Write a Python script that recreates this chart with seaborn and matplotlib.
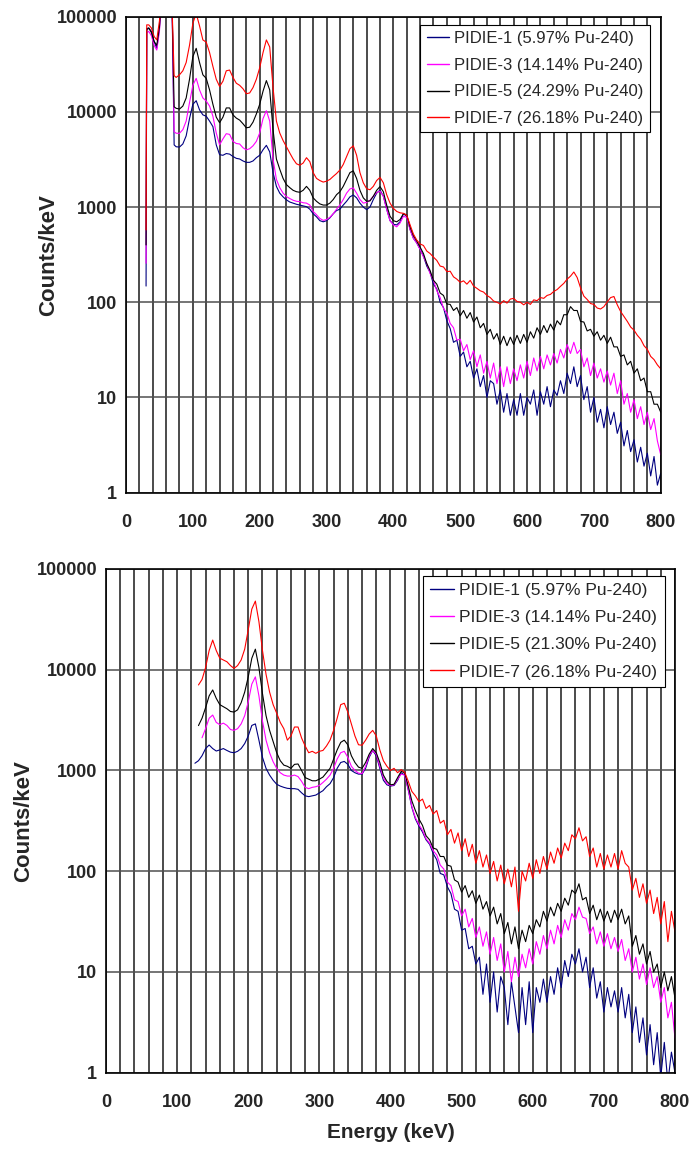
import numpy as np
import pandas as pd
import matplotlib
matplotlib.use("Agg")
import matplotlib.pyplot as plt
from matplotlib.ticker import FixedLocator, MultipleLocator, NullLocator
from matplotlib.lines import Line2D
import seaborn as sns

# Energy channels (keV)
energy_top = [30, 31, 34, 38, 42, 46, 50, 54, 58, 62, 66, 69, 72, 75] + list(range(80, 805, 5))
energy_bottom = list(range(125, 805, 5))

# ---- upper spectrum set (counts/keV) ----
top_pidie1 = [
    148, 72000, 76000, 70000, 55000, 46500, 75000, 200000, 400000, 400000, 300000, 120000, 4500, 4300,
    4270, 4600, 5600, 8500, 12000, 13100, 10500, 9300, 9000, 8000,
    7000, 4500, 3550, 3500, 3650, 3600, 3400, 3250, 3200, 3050,
    2950, 2950, 3050, 3300, 3500, 4000, 4450, 3800, 2300, 1650,
    1400, 1280, 1190, 1130, 1100, 1070, 1050, 1030, 1010, 950,
    850, 790, 720, 700, 720, 770, 850, 920, 950, 1050,
    1150, 1280, 1340, 1250, 1100, 1000, 940, 1000, 1200, 1400,
    1510, 1300, 950, 720, 660, 650, 700, 850, 800, 580,
    470, 420, 360,
    305, 240, 205, 155, 138, 100, 88, 64, 53, 38,
    40, 27, 30, 21, 24, 16, 20, 13, 17, 10,
    15, 14, 8.5, 12, 7, 11, 6.5, 9.5, 6.5, 11,
    6.5, 10, 8.5, 12, 6.5, 11.5, 8.5, 13, 8, 12,
    10.5, 15, 11, 18, 14, 21, 13, 17, 9.5, 13,
    7, 10, 5.5, 7.5, 4.8, 8, 5.2, 7, 4.2, 5.5,
    3.1, 4.5, 2.7, 3.6, 2.1, 3, 1.9, 2.6, 1.5, 2.4,
    1.2, 1.6,
]
top_pidie3 = [
    257, 68000, 70000, 63000, 50000, 44600, 70000, 200000, 400000, 400000, 300000, 120000, 6200, 5960,
    5960, 6500, 8000, 12500, 19000, 22500, 17000, 14000, 13000, 11500,
    9000, 6000, 4500, 5200, 5900, 5800, 4900, 4650, 4600, 4200,
    3990, 4100, 4400, 4900, 6000, 8500, 10300, 8000, 3200, 1950,
    1600, 1400, 1290, 1230, 1180, 1150, 1140, 1110, 1100, 1050,
    900, 830, 760, 725, 740, 780, 850, 950, 1050, 1200,
    1400, 1550, 1590, 1400, 1200, 1100, 1120, 1180, 1300, 1420,
    1470, 1300, 950, 720, 650, 620, 680, 800, 780, 580,
    470, 420, 360,
    300, 255, 200, 170, 132, 112, 86, 77, 60, 54,
    40, 41, 31, 36, 25, 31, 21, 28, 18, 24,
    16, 23, 14, 21, 13, 21, 14, 20, 15, 22,
    16, 24, 17, 26, 19, 27, 20, 28, 22, 29,
    23, 32, 26, 36, 29, 38, 29, 32, 21, 26,
    17, 23, 16, 20, 14.5, 19, 13.5, 18, 11, 15,
    8.5, 11, 7, 9.5, 6, 8, 5.2, 7, 4.6, 6,
    3.5, 2.5,
]
top_pidie5 = [
    400, 75000, 76000, 68000, 55000, 50000, 78000, 200000, 400000, 400000, 300000, 120000, 11300, 10900,
    10700, 11500, 14000, 22000, 38000, 46500, 33000, 24500, 22500, 17000,
    12000, 8800, 7700, 8800, 11000, 11000, 9300, 8600, 8200, 7500,
    6800, 6900, 7800, 9500, 12000, 16500, 21300, 17000, 6500, 3200,
    2500, 2000, 1720, 1600, 1500, 1450, 1430, 1500, 1650, 1500,
    1250, 1150, 1080, 1050, 1050, 1100, 1200, 1350, 1450, 1650,
    1950, 2300, 2400, 2000, 1500, 1250, 1150, 1160, 1300, 1500,
    1640, 1450, 1050, 800, 720, 700, 740, 850, 830, 620,
    500, 440, 380,
    325, 255, 215, 170, 155, 125, 118, 96, 95, 82,
    88, 72, 82, 68, 78, 62, 70, 54, 60, 46,
    52, 41, 47, 36, 44, 35, 43, 36, 45, 37,
    46, 38, 49, 42, 54, 46, 57, 48, 59, 51,
    64, 58, 74, 74, 90, 82, 82, 63, 62, 50,
    52, 44, 49, 40, 45, 37, 43, 34, 34, 27,
    28, 22, 24, 18, 20, 15, 16, 11.5, 11.5, 8.5,
    8.5, 7,
]
top_pidie7 = [
    575, 82000, 82000, 76000, 62000, 57000, 90000, 200000, 400000, 400000, 300000, 120000, 24000, 23000,
    24500, 27000, 33000, 50000, 85000, 108000, 80000, 57000, 54000, 42000,
    30000, 22000, 18500, 21000, 27000, 27500, 23000, 20000, 19000, 17500,
    15500, 15800, 18000, 22000, 29000, 42000, 57000, 48000, 18000, 8000,
    6000, 5000, 4300, 3700, 3200, 2850, 2750, 2900, 3300, 3000,
    2300, 2000, 1900, 1830, 1870, 1950, 2100, 2250, 2450, 2800,
    3400, 4100, 4400, 3500, 2300, 1800, 1560, 1520, 1650, 1900,
    2050, 1800, 1350, 1100, 970, 900, 870, 860, 820, 650,
    520, 450, 410,
    395, 345, 325, 298, 275, 240, 235, 210, 212, 185,
    175, 162, 168, 155, 170, 148, 140, 132, 128, 118,
    112, 103, 100, 96, 104, 98, 108, 110, 102, 100,
    94, 100, 95, 106, 104, 112, 110, 118, 121, 130,
    136, 147, 158, 175, 188, 208, 182, 142, 116, 107,
    97, 95, 87, 85, 90, 101, 112, 115, 94, 80,
    71, 63, 55, 51, 45, 41, 35, 32, 27, 25,
    22, 20,
]

# ---- lower spectrum set (counts/keV) ----
nan = float("nan")
bottom_pidie1 = [
    1180, 1250, 1400, 1650, 1790, 1650, 1560, 1600, 1650, 1580,
    1520, 1500, 1550, 1650, 1850, 2200, 2800, 2900, 2000, 1350,
    1050, 900, 800, 730, 700, 680, 665, 660, 660, 650,
    600, 560, 550, 560, 570, 600, 630, 690, 740, 850,
    1050, 1200, 1230, 1150, 1000, 950, 920, 920, 1050, 1350,
    1580, 1400, 1050, 800, 720, 700, 710, 800, 950, 900,
    640, 430, 330, 280,
    245, 205, 185, 150, 130, 95, 92, 70, 60, 42,
    40, 26, 27, 17, 18, 12, 14, 6, 12, 5,
    10, 4, 9, 7, 3, 8, 4.5, 2.5, 7, 3,
    8, 2.5, 7, 5, 8.5, 5, 9, 6, 11, 7,
    13, 9, 15, 12, 17, 10, 14, 7, 11, 5.5,
    8, 4, 7, 4.5, 6.5, 4, 7, 3.5, 6, 2.5,
    4.5, 2, 3.5, 1.5, 3, 1.2, 2.5, 0.9, 2, 0.8,
    1.6, 1,
]
bottom_pidie3 = [
    nan, nan, 2110, 2600, 3300, 3550, 3000, 2850, 2950, 2800,
    2550, 2500, 2600, 2900, 3500, 4800, 7200, 8500, 5500, 3100,
    2000, 1500, 1220, 1050, 950, 900, 880, 880, 900, 870,
    780, 680, 660, 680, 690, 710, 760, 820, 900, 1050,
    1300, 1500, 1550, 1350, 1100, 1000, 940, 930, 1100, 1400,
    1580, 1450, 1100, 850, 740, 710, 720, 820, 920, 900,
    650, 440, 340, 290,
    255, 210, 190, 160, 145, 115, 105, 78, 72, 52,
    50, 36, 42, 28, 34, 22, 28, 18, 25, 15,
    22, 13, 19, 10, 16, 8, 14, 9, 15, 11,
    17, 12, 20, 15, 23, 17, 26, 19, 29, 22,
    33, 26, 38, 33, 44, 35, 34, 24, 28, 19,
    25, 18, 24, 17, 22, 16, 21, 13, 17, 10,
    14, 8.5, 12, 7.5, 11, 7, 9, 5, 7, 3.5,
    5, 2.2,
]
bottom_pidie5 = [
    nan, 2790, 3300, 4200, 5500, 6300, 5200, 4500, 4300, 4100,
    3850, 3800, 4000, 4700, 6000, 8500, 13000, 16000, 10500, 5800,
    3500, 2500, 1930, 1500, 1250, 1130, 1100, 1050, 1150, 1160,
    1000, 850, 820, 790, 790, 820, 860, 950, 1050, 1300,
    1600, 1900, 2000, 1800, 1400, 1200, 1080, 1050, 1200, 1450,
    1650, 1500, 1200, 900, 780, 720, 730, 850, 980, 950,
    700, 500, 400, 330,
    285, 225, 205, 170, 165, 140, 140, 115, 112, 82,
    78, 62, 72, 55, 64, 48, 58, 42, 50, 36,
    44, 30, 38, 24, 31, 19, 28, 17, 26, 20,
    29, 24, 33, 28, 40, 32, 44, 36, 48, 40,
    54, 46, 65, 60, 75, 52, 55, 38, 46, 33,
    42, 32, 40, 31, 41, 33, 42, 30, 36, 18,
    23, 15, 19, 12, 16, 10, 12, 7, 10, 6.5,
    9, 5.5,
]
bottom_pidie7 = [
    nan, 7060, 8000, 10500, 15500, 19700, 15500, 13000, 12500, 12000,
    11000, 10300, 11000, 12500, 16000, 25000, 40000, 48000, 30000, 15500,
    9000, 6000, 4500, 3700, 3000, 2600, 2000, 2200, 2700, 2700,
    2100, 1750, 1500, 1550, 1480, 1550, 1580, 1750, 2000, 2500,
    3300, 4500, 4650, 3800, 2900, 2200, 1800, 1780, 2000, 2300,
    2500, 2200, 1600, 1250, 1100, 1000, 1050, 950, 1020, 960,
    780, 620, 560, 490,
    520, 420, 450, 370, 400, 300, 320, 230, 260, 190,
    240, 160, 210, 140, 185, 120, 160, 110, 145, 95,
    125, 80, 115, 75, 105, 70, 110, 40, 100, 80,
    120, 85, 130, 95, 140, 105, 155, 120, 170, 135,
    190, 160, 230, 210, 270, 200, 220, 140, 170, 110,
    150, 105, 145, 110, 150, 105, 160, 120, 110, 65,
    85, 55, 75, 48, 65, 38, 55, 30, 50, 20,
    40, 25,
]

labels_top = [
    "PIDIE-1 (5.97% Pu-240)",
    "PIDIE-3 (14.14% Pu-240)",
    "PIDIE-5 (24.29% Pu-240)",
    "PIDIE-7 (26.18% Pu-240)",
]
labels_bottom = [
    "PIDIE-1 (5.97% Pu-240)",
    "PIDIE-3 (14.14% Pu-240)",
    "PIDIE-5 (21.30% Pu-240)",
    "PIDIE-7 (26.18% Pu-240)",
]
colors = ["#000080", "#FF00FF", "#000000", "#FF0000"]

decades = [1, 10, 100, 1000, 10000, 100000]
decade_labels = ["1", "10", "100", "1000", "10000", "100000"]
energy_ticks = list(range(0, 801, 100))

sns.set_style("white")
plt.rcParams["font.family"] = ["Liberation Sans", "DejaVu Sans"]


def long_frame(energy, series, labels):
    parts = []
    for values, label in zip(series, labels):
        part = pd.DataFrame({"Energy": energy, "Counts": values, "Sample": label})
        parts.append(part.dropna())
    return pd.concat(parts, ignore_index=True)


def draw_panel(ax, energy, series, labels, legend_anchor, legend_size, legend_spacing, legend_pad):
    df = long_frame(energy, series, labels)
    sns.lineplot(data=df, x="Energy", y="Counts", hue="Sample", hue_order=labels,
                 palette=colors, linewidth=0.8, estimator=None, sort=False,
                 legend=False, ax=ax)
    ax.set_yscale("log")
    ax.set_xlim(0, 800)
    ax.set_ylim(1, 100000)

    ax.yaxis.set_major_locator(FixedLocator(decades))
    ax.yaxis.set_minor_locator(NullLocator())
    ax.set_yticklabels(decade_labels, fontweight="bold", fontsize=13)
    ax.set_xticks(energy_ticks)
    ax.set_xticklabels([str(t) for t in energy_ticks], fontweight="bold", fontsize=13)
    ax.xaxis.set_minor_locator(MultipleLocator(20))

    ax.set_axisbelow(True)
    ax.grid(True, which="both", axis="x", color="#1a1a1a", linewidth=1.1)
    ax.grid(True, which="major", axis="y", color="#505050", linewidth=1.1)
    ax.tick_params(axis="both", which="major", direction="out", width=1, color="black")
    ax.tick_params(axis="y", which="major", length=3.8, pad=2.5)
    ax.tick_params(axis="x", which="major", length=4, pad=11)
    ax.tick_params(axis="x", which="minor", length=0)
    for side in ax.spines.values():
        side.set_color("black")
        side.set_linewidth(1.2)

    ax.set_xlabel("")
    ax.set_ylabel("Counts/keV", fontweight="bold", fontsize=16)

    handles = [Line2D([0], [0], color=c, linewidth=1.0) for c in colors]
    leg = ax.legend(handles, labels, loc="upper right", bbox_to_anchor=legend_anchor,
                    borderaxespad=0, frameon=True, fancybox=False, framealpha=1,
                    edgecolor="black", fontsize=legend_size, handlelength=1.35,
                    handletextpad=0.3, labelspacing=legend_spacing, borderpad=legend_pad)
    leg.get_frame().set_linewidth(0.8)


fig = plt.figure(figsize=(6.92, 11.49), dpi=100)
ax_top = fig.add_axes([0.1821, 0.5712, 0.7727, 0.4143])
ax_bot = fig.add_axes([0.1532, 0.0664, 0.8222, 0.4384])

draw_panel(ax_top, energy_top, [top_pidie1, top_pidie3, top_pidie5, top_pidie7],
           labels_top, (0.980, 0.983), 12, 0.70, 0.38)
draw_panel(ax_bot, energy_bottom, [bottom_pidie1, bottom_pidie3, bottom_pidie5, bottom_pidie7],
           labels_bottom, (0.982, 0.987), 12.6, 0.68, 0.42)

ax_top.yaxis.set_label_coords(-0.125, 0.5)
ax_bot.yaxis.set_label_coords(-0.1265, 0.5)
ax_bot.set_xlabel("Energy (keV)", fontweight="bold", fontsize=15)
ax_bot.xaxis.set_label_coords(0.5, -0.1)

fig.savefig("out.png", dpi=100, facecolor="white")
